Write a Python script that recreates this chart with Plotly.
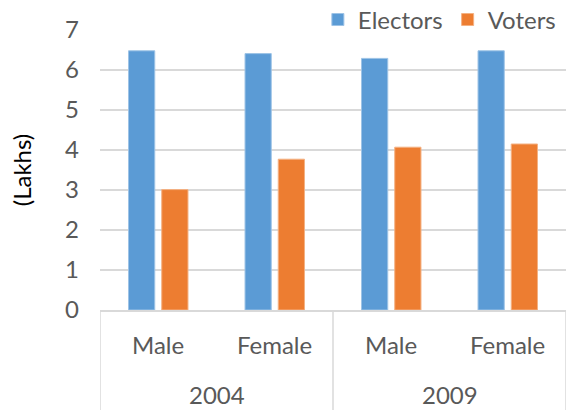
import plotly.graph_objects as go

years = ["2004", "2009"]
genders = ["Male", "Female", "Male", "Female"]
electors = [6.48, 6.41, 6.29, 6.48]
voters = [3.01, 3.77, 4.07, 4.15]

font_family = "Lato, 'Noto Sans', sans-serif"
grey = "#595959"
line_grey = "#D9D9D9"

# one slot per (year, gender) pair
slots = [f"{years[i // 2]} {g}" for i, g in enumerate(genders)]

fig = go.Figure()
fig.add_trace(go.Bar(x=slots, y=electors, name="Electors",
                     marker=dict(color="#5B9BD5", line=dict(color="#9DC3E6", width=1))))
fig.add_trace(go.Bar(x=slots, y=voters, name="Voters",
                     marker=dict(color="#ED7D31", line=dict(color="#F4B183", width=1))))

# two-level category labels under the axis
for s, g in zip(slots, genders):
    fig.add_annotation(x=s, y=-0.123, xref="x", yref="paper", text=g, showarrow=False,
                       font=dict(size=24, color=grey), yanchor="middle")
for i, yr in enumerate(years):
    fig.add_annotation(x=2 * i + 0.5, y=-0.303, xref="x", yref="paper", text=yr, showarrow=False,
                       font=dict(size=24, color=grey), yanchor="middle")
for xv in [-0.5, 1.5, 3.5]:
    fig.add_shape(type="line", xref="x", yref="paper", x0=xv, x1=xv, y0=0, y1=-0.36,
                  line=dict(color=line_grey, width=1.5))

fig.update_layout(
    width=572, height=410,
    margin=dict(l=100, r=6, t=30, b=100, autoexpand=False),
    plot_bgcolor="white", paper_bgcolor="white",
    barmode="group", bargap=0.43, bargroupgap=0.21,
    font=dict(family=font_family, size=24, color=grey),
    legend=dict(orientation="h", x=0.989, xanchor="right", y=1.036, yanchor="middle",
                font=dict(size=24, color=grey), itemwidth=30,
                bgcolor="rgba(0,0,0,0)"),
    showlegend=True,
)
fig.update_yaxes(range=[0, 7], dtick=1, showgrid=True, gridcolor=line_grey, gridwidth=1.5,
                 zeroline=False, showline=False, ticks="", ticklabelstandoff=20,
                 tickfont=dict(size=24, color=grey),
                 title=dict(text="(Lakhs)", font=dict(size=24, color="black"), standoff=26))
fig.update_xaxes(range=[-0.5, 3.5], showline=True, linecolor=line_grey, linewidth=1.5,
                 showticklabels=False, ticks="")

fig.write_html("out.html", config={"displayModeBar": False},
               post_script="document.body.style.margin='0';")
